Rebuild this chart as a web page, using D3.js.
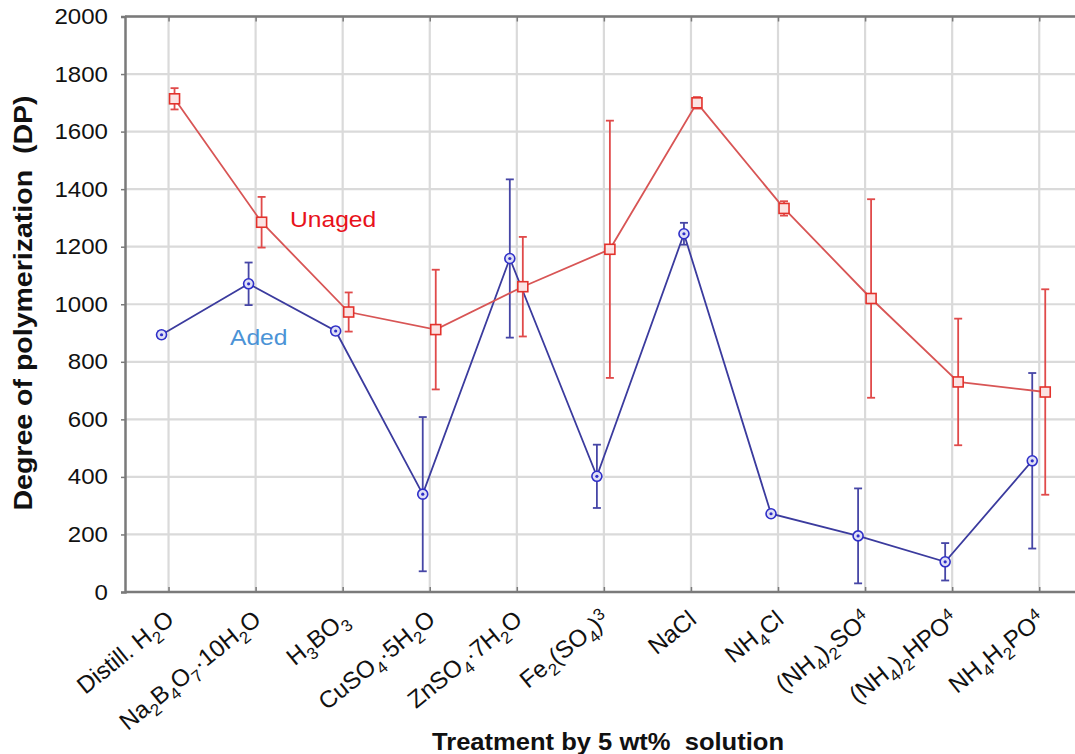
<!DOCTYPE html>
<html>
<head>
<meta charset="utf-8">
<script src="https://cdn.jsdelivr.net/npm/d3@7"></script>
<style>
  html, body { margin: 0; padding: 0; background: #ffffff; }
  svg { display: block; font-family: "Liberation Sans", Arial, sans-serif; }
</style>
</head>
<body>
<svg id="chart" width="1075" height="754"></svg>
<script>
// ---- data ----
const categories = [
  "Distill. H_{2}O",
  "Na_{2}B_{4}O_{7}·10H_{2}O",
  "H_{3}BO_{3}",
  "CuSO_{4}·5H_{2}O",
  "ZnSO_{4}·7H_{2}O",
  "Fe_{2}(SO_{4})^{3}",
  "NaCl",
  "NH_{4}Cl",
  "(NH_{4})_{2}SO^{4}",
  "(NH_{4})_{2}HPO^{4}",
  "NH_{4}H_{2}PO^{4}"
];
const unagedValues = [1714, 1285, 973, 912, 1061, 1191, 1700, 1333, 1020, 730, 695];
const unagedErrors = [37, 88, 68, 208, 173, 447, 20, 25, 345, 220, 357];
const agedValues = [894, 1071, 907, 340, 1159, 402, 1245, 272, 195, 105, 456];
const agedErrors = [12, 74, 12, 268, 275, 110, 38, 10, 165, 65, 305];
const yTicks = [0, 200, 400, 600, 800, 1000, 1200, 1400, 1600, 1800, 2000];
const seriesLabels = ["Unaged", "Aded"];
const yTitle = "Degree of polymerization  (DP)";
const xTitle = "Treatment by 5 wt%  solution";

// ---- layout ----
const W = 1075, H = 754;
const plotLeft = 125, plotTop = 16.5, plotBottom = 592;
const step = 87.07;
const stretch = 1.12;
const svg = d3.select("#chart");

const x = d3.scaleLinear().domain([-0.5, categories.length - 0.5])
  .range([plotLeft, plotLeft + step * categories.length]);
const y = d3.scaleLinear().domain([0, 2000]).range([plotBottom, plotTop]);

const clipRight = W;

// gridlines
const grid = svg.append("g");
grid.selectAll("line.h").data(yTicks.filter(t => t > 0)).join("line")
  .attr("x1", plotLeft).attr("x2", clipRight)
  .attr("y1", d => y(d)).attr("y2", d => y(d))
  .attr("stroke", "#dadada").attr("stroke-width", 2.2);
grid.selectAll("line.v").data(d3.range(categories.length)).join("line")
  .attr("x1", d => x(d)).attr("x2", d => x(d))
  .attr("y1", plotTop).attr("y2", plotBottom)
  .attr("stroke", "#dadada").attr("stroke-width", 2.2);

// axes via d3
const yAxis = svg.append("g").attr("transform", `translate(${plotLeft},0)`)
  .call(d3.axisLeft(y).tickValues(yTicks).tickSize(4).tickFormat(""));
yAxis.select(".domain").attr("stroke", "#7a7a7a").attr("stroke-width", 2.5);
yAxis.selectAll(".tick line").attr("stroke", "#7a7a7a").attr("stroke-width", 1.5);

svg.append("g").selectAll("text").data(yTicks).join("text")
  .attr("transform", d => `translate(108,${y(d) + 7.5}) scale(${stretch},1)`)
  .attr("text-anchor", "end").attr("font-size", 21.5).attr("fill", "#111")
  .text(d3.format("d"));

const xAxis = svg.append("g").attr("transform", `translate(0,${plotBottom})`)
  .call(d3.axisBottom(x).tickValues(d3.range(categories.length)).tickSize(-5).tickFormat(""));
xAxis.select(".domain").attr("stroke", "#7a7a7a").attr("stroke-width", 2.5)
  .attr("d", `M${plotLeft},0H${clipRight}`);
xAxis.selectAll(".tick line").attr("stroke", "#7a7a7a").attr("stroke-width", 1.5);

const topAxis = svg.append("g").attr("transform", `translate(0,${plotTop})`)
  .call(d3.axisTop(x).tickValues(d3.range(categories.length)).tickSize(-5).tickFormat(""));
topAxis.select(".domain").attr("stroke", "#7a7a7a").attr("stroke-width", 2.5)
  .attr("d", `M${plotLeft},0H${clipRight}`);
topAxis.selectAll(".tick line").attr("stroke", "#7a7a7a").attr("stroke-width", 1.5);

// x category labels with sub/superscripts
function addRich(textSel, str, size) {
  const re = /(_\{[^}]*\}|\^\{[^}]*\}|[^_^]+)/g;
  let prev = "n";
  const parts = str.match(re);
  const shift = { n: 0, sub: 0.28, sup: -0.33 };
  parts.forEach(p => {
    let mode = "n", t = p;
    if (p.startsWith("_{")) { mode = "sub"; t = p.slice(2, -1); }
    else if (p.startsWith("^{")) { mode = "sup"; t = p.slice(2, -1); }
    const dy = (shift[mode] - shift[prev]) * size;
    textSel.append("tspan").text(t)
      .attr("dy", dy)
      .attr("font-size", mode === "n" ? size : size * 0.7);
    prev = mode;
  });
}
const labG = svg.append("g");
categories.forEach((c, i) => {
  const t = labG.append("text")
    .attr("transform", `translate(${x(i) + 7},${plotBottom + 30}) rotate(-39)`)
    .attr("text-anchor", "end")
    .attr("font-size", 24).attr("fill", "#111");
  addRich(t, c, 24);
});

// series drawing
function drawSeries(values, errors, dx, lineColor, markColor, errColor, shape) {
  const g = svg.append("g");
  const line = d3.line().x((d, i) => x(i) + dx).y(d => y(d));
  g.append("path").datum(values).attr("d", line)
    .attr("fill", "none").attr("stroke", lineColor).attr("stroke-width", 1.8);
  const eg = g.selectAll("g.err").data(values).join("g");
  eg.append("line")
    .attr("x1", (d, i) => x(i) + dx).attr("x2", (d, i) => x(i) + dx)
    .attr("y1", (d, i) => y(d + errors[i])).attr("y2", (d, i) => y(d - errors[i]))
    .attr("stroke", errColor).attr("stroke-width", 1.8);
  [1, -1].forEach(s => {
    eg.append("line")
      .attr("x1", (d, i) => x(i) + dx - 4).attr("x2", (d, i) => x(i) + dx + 4)
      .attr("y1", (d, i) => y(d + s * errors[i])).attr("y2", (d, i) => y(d + s * errors[i]))
      .attr("stroke", errColor).attr("stroke-width", 1.8);
  });
  if (shape === "square") {
    g.selectAll("rect.m").data(values).join("rect")
      .attr("x", (d, i) => x(i) + dx - 5).attr("y", d => y(d) - 5)
      .attr("width", 10).attr("height", 10)
      .attr("fill", "#fbe3e3").attr("stroke", markColor).attr("stroke-width", 1.6);
  } else {
    g.selectAll("circle.m").data(values).join("circle")
      .attr("cx", (d, i) => x(i) + dx).attr("cy", d => y(d)).attr("r", 5)
      .attr("fill", "#dfe0f5").attr("stroke", markColor).attr("stroke-width", 1.6);
    g.selectAll("circle.c").data(values).join("circle")
      .attr("cx", (d, i) => x(i) + dx).attr("cy", d => y(d)).attr("r", 1.6)
      .attr("fill", markColor);
  }
}
drawSeries(agedValues, agedErrors, -7, "#3b3b9e", "#2f2fc8", "#4646a6", "circle");
drawSeries(unagedValues, unagedErrors, 6, "#d85555", "#e3322c", "#e04a4a", "square");

// series text labels
svg.append("text").attr("transform", `translate(290,227) scale(${stretch},1)`).text(seriesLabels[0])
  .attr("font-size", 22).attr("fill", "#e8121b");
svg.append("text").attr("transform", `translate(230,345) scale(${stretch},1)`).text(seriesLabels[1])
  .attr("font-size", 22).attr("fill", "#4b93d6");

// axis titles
svg.append("text").attr("transform", "translate(32,303) rotate(-90)")
  .attr("text-anchor", "middle").attr("font-size", 25).attr("font-weight", "bold")
  .attr("textLength", 415).attr("lengthAdjust", "spacingAndGlyphs")
  .attr("fill", "#111").style("white-space", "pre").text(yTitle);
svg.append("text").attr("x", 608).attr("y", 750)
  .attr("text-anchor", "middle").attr("font-size", 24).attr("font-weight", "bold")
  .attr("textLength", 352).attr("lengthAdjust", "spacingAndGlyphs")
  .attr("fill", "#111").style("white-space", "pre").text(xTitle);
</script>
</body>
</html>
